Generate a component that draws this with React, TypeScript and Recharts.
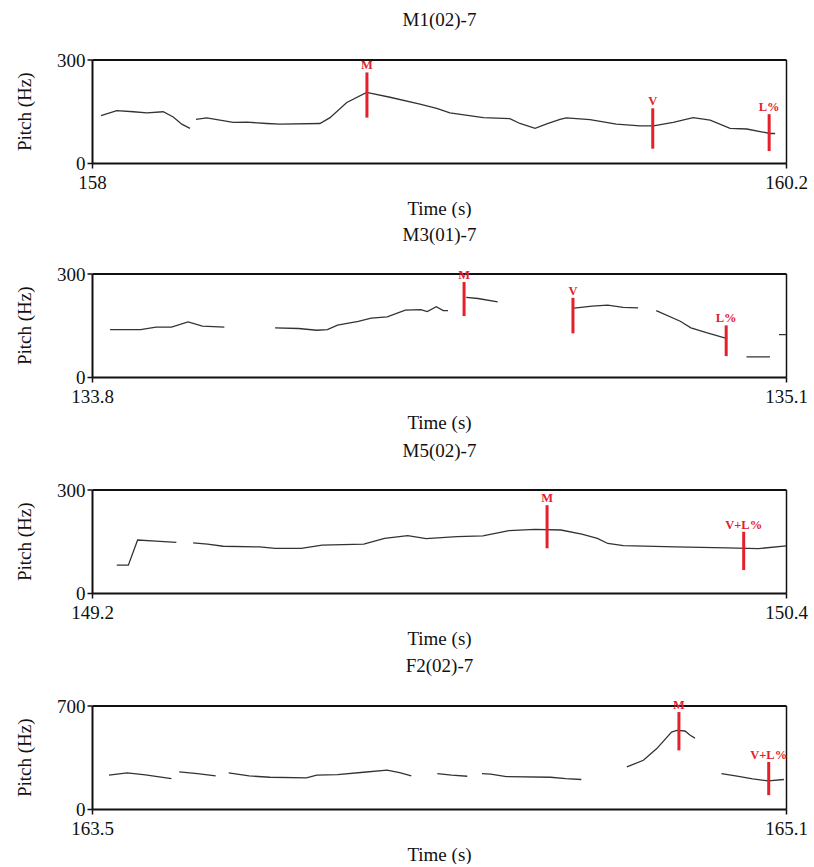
import { Label, Line, LineChart, ReferenceLine, XAxis, YAxis } from "recharts";

const SERIF = '"Liberation Serif", "Times New Roman", serif';
const INK = "#111";
const CURVE = "#333";
const MARK = "#e3202b";

// null pitch = unvoiced gap in the contour

// M1(02)-7
const m1Time = [
  158.027, 158.077, 158.13, 158.172, 158.224, 158.256, 158.283, 158.309, 158.318,
  158.328, 158.362, 158.446, 158.489, 158.552, 158.594, 158.721, 158.753, 158.806, 158.869,
  158.943, 159.038, 159.091, 159.133, 159.239, 159.323, 159.355, 159.403, 159.44, 159.482,
  159.502, 159.577, 159.661, 159.736, 159.778, 159.841, 159.904, 159.958, 160.021, 160.074,
  160.148, 160.164,
];
const m1Pitch = [
  139, 153, 150, 147, 150, 135, 114, 102, null,
  128, 132, 119, 120, 116, 114, 116, 133, 177, 206,
  192, 172, 160, 147, 133, 130, 116, 102, 115, 128,
  132, 127, 114, 109, 109, 119, 133, 126, 102, 100,
  87, 87,
];
const m1MarkText = ["M", "V", "L%"];
const m1MarkTime = [158.87, 159.776, 160.145];
const m1MarkLow = [133, 43, 36];
const m1MarkHigh = [264, 160, 143];

// M3(01)-7
const m3Time = [
  133.833, 133.89, 133.919, 133.948, 133.979, 134.006, 134.047, 134.09,
  134.142, 134.186, 134.22, 134.24, 134.259, 134.298, 134.322, 134.352, 134.386, 134.415,
  134.427, 134.444, 134.457, 134.466, 134.48,
  134.5, 134.522, 134.559, 134.63,
  134.702, 134.736, 134.765, 134.794, 134.822, 134.84,
  134.856, 134.901, 134.921, 134.95, 134.989, 135.01,
  135.025, 135.069, 135.078,
  135.086, 135.1,
];
const m3Pitch = [
  139, 139, 146, 146, 161, 149, 146, null,
  144, 142, 137, 139, 152, 163, 172, 176, 195, 197,
  191, 205, 194, 194, null,
  232, 229, 219, null,
  201, 207, 210, 203, 202, null,
  194, 163, 144, 130, 113, null,
  60, 60, null,
  124, 124,
];
const m3MarkText = ["M", "V", "L%"];
const m3MarkTime = [134.496, 134.7, 134.987];
const m3MarkLow = [178, 128, 62];
const m3MarkHigh = [277, 231, 151];

// M5(02)-7
const m5Time = [
  149.242, 149.262, 149.278, 149.31, 149.345, 149.36,
  149.374, 149.399, 149.426, 149.489, 149.516, 149.561, 149.597, 149.669, 149.705, 149.745,
  149.777, 149.83, 149.875, 149.92, 149.965, 150.01, 150.046, 150.073, 150.091, 150.118,
  150.208, 150.297, 150.351, 150.4,
];
const m5Pitch = [
  82, 82, 155, 152, 148, null,
  147, 143, 137, 135, 131, 131, 140, 143, 160, 168,
  159, 165, 167, 182, 186, 184, 172, 160, 145, 139,
  135, 132, 130, 138,
];
const m5MarkText = ["M", "V+L%"];
const m5MarkTime = [149.986, 150.326];
const m5MarkLow = [131, 68];
const m5MarkHigh = [256, 179];

// F2(02)-7
const f2Time = [
  163.538, 163.58, 163.622, 163.682, 163.69,
  163.7, 163.742, 163.784, 163.8,
  163.814, 163.861, 163.909, 163.993, 164.017, 164.065, 164.125, 164.179, 164.208, 164.235, 164.26,
  164.295, 164.328, 164.364, 164.38,
  164.398, 164.418, 164.454, 164.556, 164.591, 164.627, 164.68,
  164.732, 164.77, 164.801, 164.835, 164.847, 164.866, 164.878, 164.889, 164.92,
  164.95, 164.986, 165.022, 165.058, 165.094,
];
const f2Pitch = [
  232, 248, 234, 209, null,
  254, 243, 227, null,
  248, 227, 218, 214, 232, 236, 252, 266, 250, 227, null,
  243, 232, 225, null,
  243, 239, 223, 218, 209, 203, null,
  288, 333, 412, 524, 535, 531, 502, 483, null,
  243, 225, 207, 194, 203,
];
const f2MarkText = ["M", "V+L%"];
const f2MarkTime = [164.852, 165.059];
const f2MarkLow = [400, 97];
const f2MarkHigh = [659, 322];

const PLOT_H = 103.5;
const M_TOP = 10;
const X_AXIS_H = 55;
const FS = 19;

function XTick(props: any) {
  return (
    <text x={props.x} y={props.y} dy="0.71em" textAnchor="middle" fill={INK} fontSize={FS} fontFamily={SERIF}>
      {props.payload.value}
    </text>
  );
}

function YTick(props: any) {
  return (
    <text x={props.x} y={props.y} dy="0.355em" textAnchor="end" fill={INK} fontSize={FS} fontFamily={SERIF}>
      {props.payload.value}
    </text>
  );
}

interface PanelProps {
  top: number;
  title: string;
  time: number[];
  pitch: (number | null)[];
  xMin: number;
  xMax: number;
  yMax: number;
  markText: string[];
  markTime: number[];
  markLow: number[];
  markHigh: number[];
}

function Panel({ top, title, time, pitch, xMin, xMax, yMax, markText, markTime, markLow, markHigh }: PanelProps) {
  const data = time.map((t, i) => ({ t, p: pitch[i] }));

  return (
    <>
      <div
        style={{
          position: "absolute",
          left: 0,
          width: 879,
          top: top - 33.5 - 15.9,
          textAlign: "center",
          fontFamily: SERIF,
          fontSize: FS,
          lineHeight: "19px",
          color: INK,
        }}
      >
        {title}
      </div>
      <div style={{ position: "absolute", left: 0, top: top - M_TOP }}>
        <LineChart
          width={814}
          height={M_TOP + PLOT_H + X_AXIS_H}
          data={data}
          margin={{ top: M_TOP, right: 27.5, bottom: 0, left: 32.5 }}
        >
          <XAxis
            dataKey="t"
            type="number"
            domain={[xMin, xMax]}
            ticks={[xMin, xMax]}
            interval={0}
            allowDataOverflow
            height={X_AXIS_H}
            axisLine={{ stroke: INK, strokeWidth: 2 }}
            tickLine={{ stroke: INK, strokeWidth: 1.5 }}
            tickSize={5}
            tickMargin={7}
            tick={<XTick />}
          >
            <Label value="Time (s)" position="insideBottom" offset={3.5} fill={INK} fontSize={FS} fontFamily={SERIF} />
          </XAxis>
          <YAxis
            type="number"
            domain={[0, yMax]}
            ticks={[0, yMax]}
            interval={0}
            width={60}
            axisLine={{ stroke: INK, strokeWidth: 2 }}
            tickLine={{ stroke: INK, strokeWidth: 1.5 }}
            tickSize={5}
            tickMargin={2}
            tick={<YTick />}
          >
            <Label
              content={(props: any) => {
                const vb = props.viewBox;
                const cx = 24;
                const cy = vb.y + vb.height / 2;
                return (
                  <text
                    x={cx}
                    y={cy}
                    transform={`rotate(-90 ${cx} ${cy})`}
                    textAnchor="middle"
                    dominantBaseline="central"
                    fill={INK}
                    fontSize={FS}
                    fontFamily={SERIF}
                  >
                    Pitch (Hz)
                  </text>
                );
              }}
            />
          </YAxis>
          <ReferenceLine y={yMax} stroke={INK} strokeWidth={2} />
          <ReferenceLine x={xMax} stroke={INK} strokeWidth={1.5} />
          <Line
            dataKey="p"
            stroke={CURVE}
            strokeWidth={1.3}
            dot={false}
            connectNulls={false}
            isAnimationActive={false}
          />
          {markText.map((txt, i) => (
            <ReferenceLine
              key={txt + i}
              segment={[
                { x: markTime[i], y: markLow[i] },
                { x: markTime[i], y: markHigh[i] },
              ]}
              stroke={MARK}
              strokeWidth={3}
              label={{
                value: txt,
                position: "top",
                offset: 3,
                fill: MARK,
                fontSize: 12.5,
                fontWeight: 700,
                fontFamily: SERIF,
              }}
            />
          ))}
        </LineChart>
      </div>
    </>
  );
}

export default function App() {
  return (
    <div style={{ position: "absolute", left: 0, top: 0, width: 814, height: 867, background: "#fff" }}>
      <Panel
        top={59.5}
        title="M1(02)-7"
        time={m1Time}
        pitch={m1Pitch}
        xMin={158}
        xMax={160.2}
        yMax={300}
        markText={m1MarkText}
        markTime={m1MarkTime}
        markLow={m1MarkLow}
        markHigh={m1MarkHigh}
      />
      <Panel
        top={274.3}
        title="M3(01)-7"
        time={m3Time}
        pitch={m3Pitch}
        xMin={133.8}
        xMax={135.1}
        yMax={300}
        markText={m3MarkText}
        markTime={m3MarkTime}
        markLow={m3MarkLow}
        markHigh={m3MarkHigh}
      />
      <Panel
        top={490}
        title="M5(02)-7"
        time={m5Time}
        pitch={m5Pitch}
        xMin={149.2}
        xMax={150.4}
        yMax={300}
        markText={m5MarkText}
        markTime={m5MarkTime}
        markLow={m5MarkLow}
        markHigh={m5MarkHigh}
      />
      <Panel
        top={705.7}
        title="F2(02)-7"
        time={f2Time}
        pitch={f2Pitch}
        xMin={163.5}
        xMax={165.1}
        yMax={700}
        markText={f2MarkText}
        markTime={f2MarkTime}
        markLow={f2MarkLow}
        markHigh={f2MarkHigh}
      />
    </div>
  );
}
